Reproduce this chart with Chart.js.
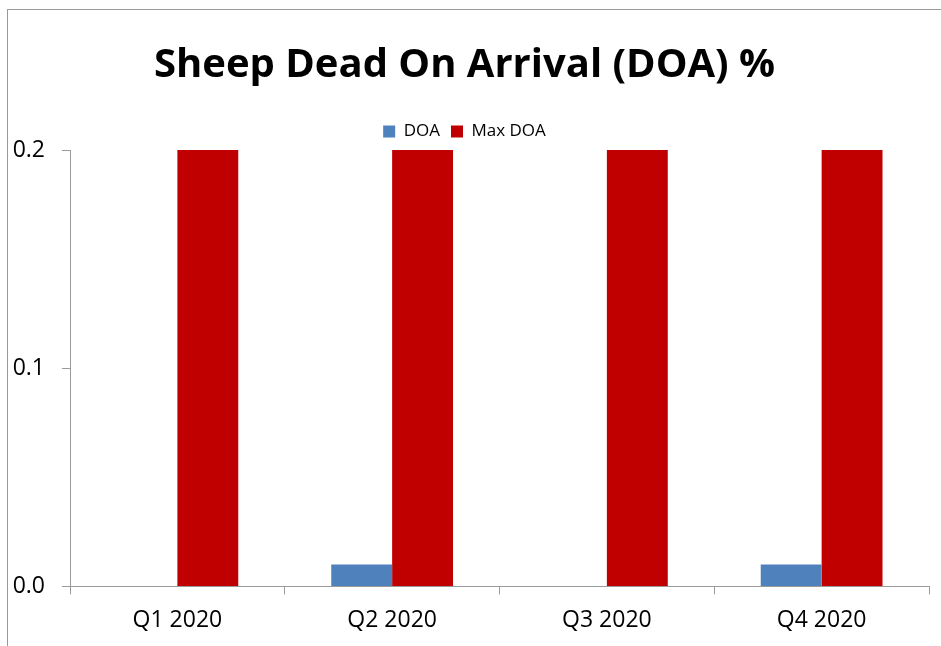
<!DOCTYPE html>
<html>
<head>
<meta charset="utf-8">
<script src="https://cdn.jsdelivr.net/npm/chart.js@4"></script>
<style>
  body { margin: 0; background: #fff; }
  #wrap { position: relative; width: 941px; height: 646px; }
  #frame { position: absolute; left: 7px; top: 9px; right: 0; bottom: 0; border-left: 1px solid #9a9a9a; border-top: 1px solid #9a9a9a; pointer-events: none; }
</style>
</head>
<body>
<div id="wrap">
  <canvas id="doaChart" width="941" height="646"></canvas>
  <div id="frame"></div>
</div>
<script>
const quarters = ['Q1 2020', 'Q2 2020', 'Q3 2020', 'Q4 2020'];
const doaValues = [0, 0.01, 0, 0.01];
const maxDoaValues = [0.2, 0.2, 0.2, 0.2];
const yTicks = [0, 0.1, 0.2];

Chart.defaults.font.family = '"Open Sans", sans-serif';
Chart.defaults.color = '#000';

const ctx = document.getElementById('doaChart').getContext('2d');
const doaChart = new Chart(ctx, {
    type: 'bar',
    data: {
        labels: quarters,
        datasets: [{
            label: 'DOA',
            data: doaValues,
            backgroundColor: '#4f81bd',
            categoryPercentage: 0.567,
            barPercentage: 1
        }, {
            label: 'Max DOA',
            data: maxDoaValues,
            backgroundColor: '#c00000',
            categoryPercentage: 0.567,
            barPercentage: 1
        }]
    },
    options: {
        responsive: false,
        animation: false,
        layout: { padding: { left: 0, right: 12, top: 42, bottom: 0 } },
        plugins: {
            title: {
                display: true,
                text: 'Sheep Dead On Arrival (DOA) %',
                font: { size: 40, weight: 'bold' },
                padding: { top: 0, bottom: 22 }
            },
            legend: {
                position: 'top',
                labels: {
                    boxWidth: 12,
                    boxHeight: 12,
                    padding: 11,
                    font: { size: 17 }
                }
            },
            tooltip: { enabled: false }
        },
        scales: {
            x: {
                grid: { drawOnChartArea: false, tickLength: 8, color: '#9a9a9a' },
                border: { color: '#9a9a9a' },
                ticks: { font: { size: 23 }, padding: 12 }
            },
            y: {
                min: 0,
                max: 0.2,
                afterBuildTicks: axis => { axis.ticks = yTicks.map(v => ({ value: v })); },
                afterFit: axis => { axis.width = 70; },
                grid: { drawOnChartArea: false, tickLength: 8, color: '#9a9a9a' },
                border: { color: '#9a9a9a' },
                ticks: {
                    font: { size: 23 },
                    padding: 17,
                    callback: v => Number(v).toFixed(1)
                }
            }
        }
    }
});
</script>
</body>
</html>
